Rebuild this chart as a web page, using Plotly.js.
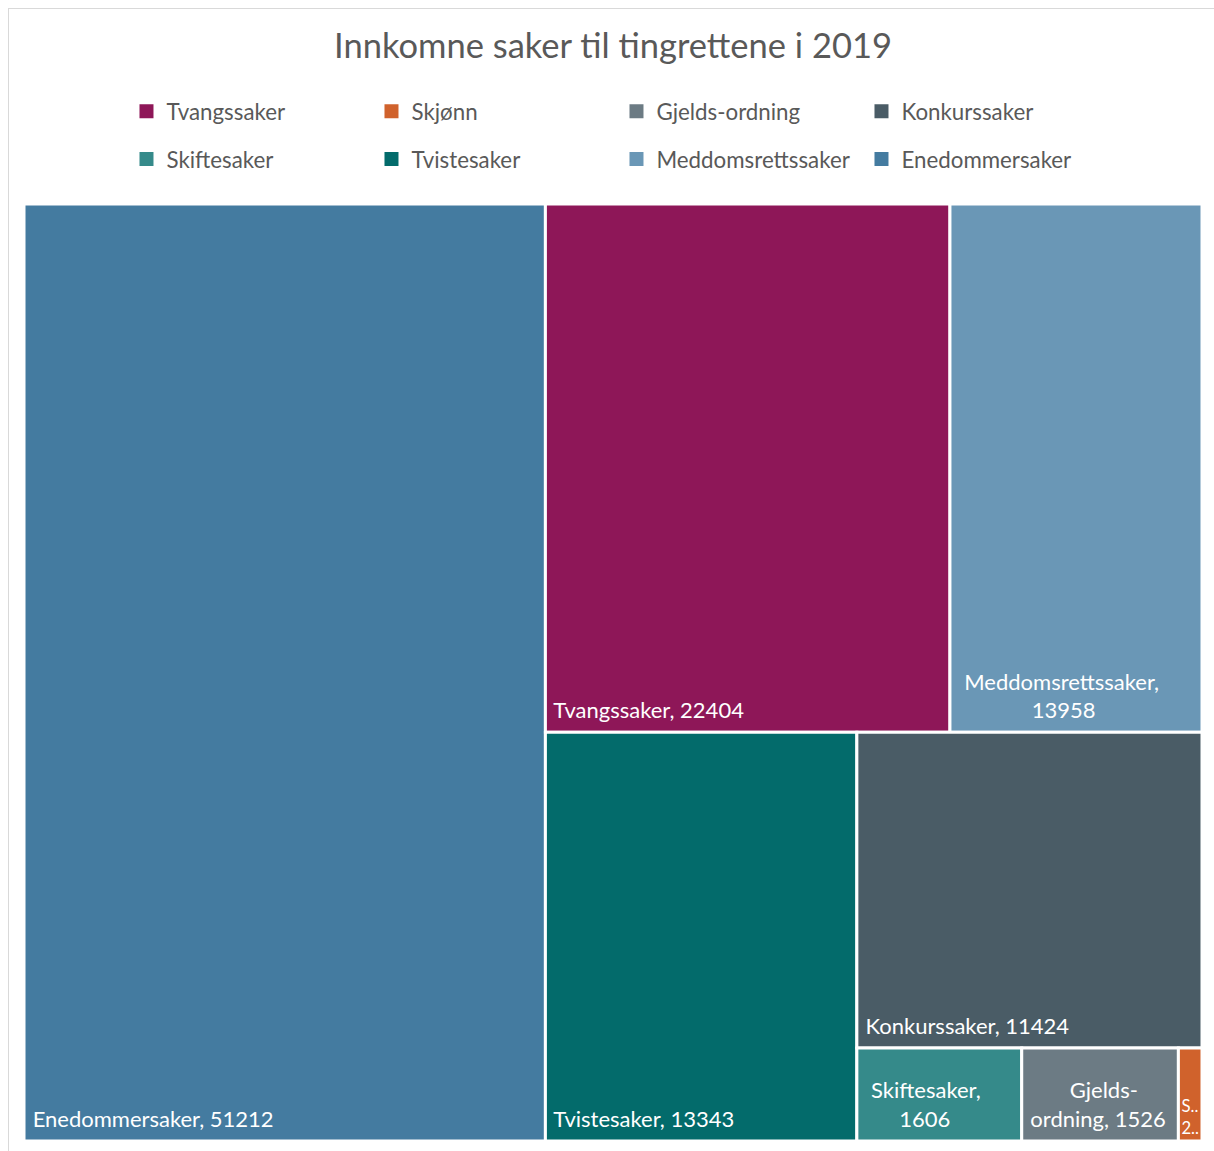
<!DOCTYPE html>
<html>
<head>
<meta charset="utf-8">
<script src="https://cdn.plot.ly/plotly-3.0.1.min.js"></script>
<style>
  html, body { margin: 0; padding: 0; background: #fff; }
  #wrap { position: relative; width: 1214px; height: 1151px; overflow: hidden; }
  #chart { width: 1214px; height: 1151px; }
  #frame { position: absolute; left: 8px; top: 8px; width: 1400px; height: 1400px;
           border: 1px solid #d9d9d9; pointer-events: none; box-sizing: border-box; }
</style>
</head>
<body>
<div id="wrap"><div id="chart"></div><div id="frame"></div></div>
<script>
// ---- data ----
const categories = ['Enedommersaker', 'Tvangssaker', 'Meddomsrettssaker', 'Tvistesaker',
                    'Konkurssaker', 'Skiftesaker', 'Gjelds-ordning', 'Skjønn'];
const caseCounts = [51212, 22404, 13958, 13343, 11424, 1606, 1526, 230];
const tileColors = ['#447BA0', '#8E1758', '#6A97B6', '#036B6B',
                    '#4A5C66', '#358A8A', '#6C7B84', '#D0622C'];
const legendRow1 = ['Tvangssaker', 'Skjønn', 'Gjelds-ordning', 'Konkurssaker'];
const legendRow2 = ['Skiftesaker', 'Tvistesaker', 'Meddomsrettssaker', 'Enedommersaker'];
const chartTitle = 'Innkomne saker til tingrettene i 2019';

// ---- label templates (text layout only) ----
const NB = '\u00A0';
const nb = n => NB.repeat(n);
const TAIL = '<span style="font-size:50px">\u200A</span>';  // lifts labels off tile bottom
const tileTemplates = [
  nb(1) + '%{label}, %{value:d}' + TAIL,
  nb(1) + '%{label}, %{value:d}' + TAIL,
  nb(2) + '%{label},<br>' + nb(14) + '%{value:d}' + TAIL,
  nb(1) + '%{label}, %{value:d}' + TAIL,
  nb(1) + '%{label}, %{value:d}' + TAIL,
  nb(2) + '%{label},<br>' + nb(7) + '%{value:d}' + TAIL,
  nb(8) + 'Gjelds-<br>' + nb(1) + 'ordning, %{value:d}' + TAIL,
  'S..<br>2..'
];

const FONT = 'Lato, "Open Sans", sans-serif';
const GREY = '#595959';

const traces = [{
  type: 'treemap',
  labels: categories,
  parents: categories.map(() => ''),
  values: caseCounts,
  sort: true,
  marker: { colors: tileColors, line: { color: '#ffffff', width: 3 },
            pad: { t: 0, l: 0, r: 0, b: 0 } },
  tiling: { packing: 'squarify', squarifyratio: 1.1, pad: 0 },
  pathbar: { visible: false },
  texttemplate: tileTemplates,
  textposition: 'bottom left',
  textfont: { family: FONT, size: 22, color: '#ffffff' },
  hovertemplate: '%{label}: %{value:d}<extra></extra>',
  showlegend: false
}];

function addLegendRow(names, legendId) {
  names.forEach(n => {
    const idx = categories.indexOf(n);
    traces.push({
      type: 'scatter', mode: 'markers', x: [null], y: [null], name: n,
      marker: { symbol: 'square', size: 14, color: tileColors[idx] },
      legend: legendId, showlegend: true, hoverinfo: 'skip'
    });
  });
}
addLegendRow(legendRow1, 'legend');
addLegendRow(legendRow2, 'legend2');

const legendBase = {
  orientation: 'h', xanchor: 'left', yanchor: 'middle',
  entrywidth: 200, entrywidthmode: 'pixels',
  font: { family: FONT, size: 22.3, color: GREY },
  bgcolor: 'rgba(0,0,0,0)', borderwidth: 0, itemclick: false, itemdoubleclick: false
};

const layout = {
  width: 1214, height: 1151,
  margin: { l: 24, r: 12, t: 204, b: 10 },
  paper_bgcolor: '#ffffff', plot_bgcolor: '#ffffff',
  title: { text: chartTitle, font: { family: FONT, size: 34.5, color: GREY },
           x: 0.5, xref: 'paper', y: 1 - 46 / 1151, yref: 'container', yanchor: 'middle' },
  xaxis: { visible: false }, yaxis: { visible: false },
  legend: Object.assign({}, legendBase, { x: 0.087, y: 1.099 }),
  legend2: Object.assign({}, legendBase, { x: 0.087, y: 1.048 }),
  showlegend: true,
  hovermode: 'closest'
};

Plotly.newPlot('chart', traces, layout, { displayModeBar: false });
</script>
</body>
</html>
